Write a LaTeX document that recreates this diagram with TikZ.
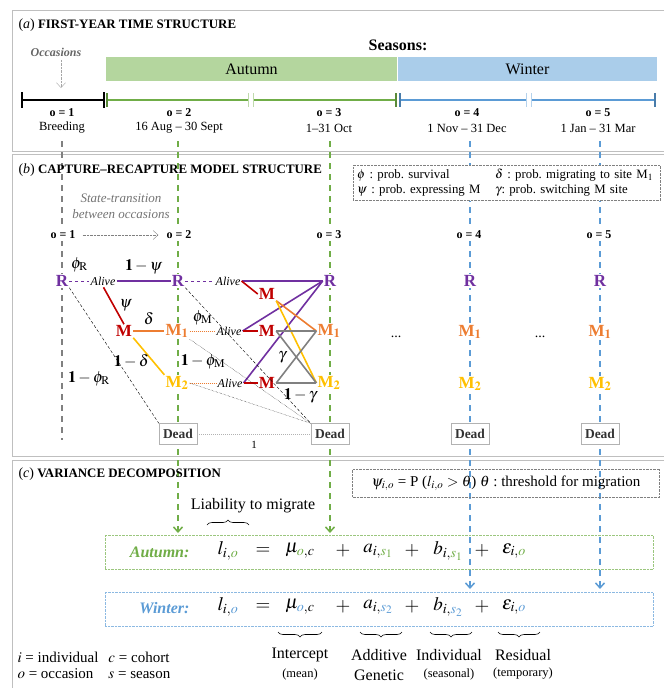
\documentclass[tikz,border=0pt]{standalone}
\usepackage{mathptmx}
\usepackage{fontspec}
\setmainfont{Liberation Serif}
\usetikzlibrary{arrows.meta,decorations.pathreplacing}
\definecolor{purp}{HTML}{7030A0}
\definecolor{mred}{HTML}{C00000}
\definecolor{morange}{HTML}{ED7D31}
\definecolor{mgold}{HTML}{FFC000}
\definecolor{agreen}{HTML}{70AD47}
\definecolor{wblue}{HTML}{5B9BD5}
\definecolor{agreenfill}{HTML}{B4D69E}
\definecolor{wbluefill}{HTML}{AACDEA}
\newcommand{\fsz}[1]{\fontsize{#1}{#1}\selectfont}
\frenchspacing

\begin{document}
\begin{tikzpicture}[x=1pt, y=-1pt, >={Straight Barb[length=5pt,width=9pt]},
    every node/.style={font=\fsz{12.5}},
    occ/.style={font=\bfseries\fsz{12}, fill=white, inner sep=2pt},
    st/.style={font=\bfseries\fsz{17}, fill=white, inner sep=1pt},
    alive/.style={font=\itshape\fsz{12}, inner sep=1pt},
    dead/.style={draw=black!30, fill=white, font=\bfseries\fsz{13.5}, text=black!80, inner sep=2pt, minimum width=38, minimum height=21},
    lab/.style={font=\fsz{16}, text=black},
    term/.style={font=\fsz{19}},
    vline/.style={dash pattern=on 6pt off 5pt, line width=1.5pt},
    link/.style={line width=1.6pt},
    frame/.style={draw=black!25, line width=0.8pt},
    title/.style={anchor=west, font=\bfseries\fsz{12.9}},
    brc/.style={decorate, decoration={brace, amplitude=5pt}, line width=0.6pt}]
      \useasboundingbox (0,0) rectangle (664,688);

      \draw[frame] (664,10) -- (12,10) -- (12,151) -- (664,151);
      \draw[frame] (664,154) -- (12,154) -- (12,456) -- (664,456);
      \draw[frame] (664,460) -- (12,460) -- (12,690);

      \coordinate (t1) at (62,141);  \coordinate (e1) at (62,440);
      \coordinate (t2) at (178,141); \coordinate (e2) at (178,533);
      \coordinate (t3) at (330,141); \coordinate (e3) at (330,533);
      \coordinate (t4) at (470,141); \coordinate (e4) at (470,589);
      \coordinate (t5) at (600,141); \coordinate (e5) at (600,589);
      \draw[vline, gray] (t1) -- (e1);
      \draw[vline, agreen, ->] (t2) -- (e2);
      \draw[vline, agreen, ->] (t3) -- (e3);
      \draw[vline, wblue, ->] (t4) -- (e4);
      \draw[vline, wblue, ->] (t5) -- (e5);

      \node[title] (TA) at (15,25) {{\mdseries\fsz{14}(\textit{a})} FIRST-YEAR TIME STRUCTURE};
      \node[font=\bfseries\fsz{16}] (S) at (398,45) {Seasons:};
      \node[font=\bfseries\itshape\fsz{12}, text=black!60] (O) at (56,52) {Occasions};
      \coordinate (Otip) at (61,88);
      \draw[gray!70, densely dotted, ->] (O.south -| Otip) -- (Otip);
      \node[fill=agreenfill, minimum width=291, minimum height=24, inner sep=0, font=\fsz{16}] (AU) at (251.5,69) {Autumn};
      \node[fill=wbluefill, minimum width=259, minimum height=24, inner sep=0, font=\fsz{16}] (WI) at (527.5,69) {Winter};

      \draw[line width=2.5pt] (22,100) -- (104,100) (22,92) -- (22,108) (104,92) -- (104,108);
      \draw[agreen, line width=2.5pt] (107,100) -- (396,100);
      \draw[agreen!80!black, line width=2pt] (107,93) -- (107,107) (396,93) -- (396,107);
      \draw[white, line width=5pt] (251,93) -- (251,107);
      \draw[agreen!45, line width=1pt] (248.5,93) -- (248.5,107) (253.5,93) -- (253.5,107);
      \draw[wblue, line width=2.5pt] (400,100) -- (655,100);
      \draw[wblue!80!black, line width=2pt] (400,93) -- (400,107) (655,93) -- (655,107);
      \draw[white, line width=5pt] (529,93) -- (529,107);
      \draw[wblue!45, line width=1pt] (526.5,93) -- (526.5,107) (531.5,93) -- (531.5,107);

      \node[font=\bfseries\fsz{12}] (a1) at (62,113) {o = 1};
      \node (d1) at (62,128) {Breeding};
      \node[font=\bfseries\fsz{12}] (a2) at (179,113) {o = 2};
      \node (d2) at (179,128) {16 Aug -- 30 Sept};
      \node[font=\bfseries\fsz{12}] (a3) at (329,113) {o = 3};
      \node (d3) at (329,128) {1--31 Oct};
      \node[font=\bfseries\fsz{12}] (a4) at (467,113) {o = 4};
      \node (d4) at (467,128) {1 Nov -- 31 Dec};
      \node[font=\bfseries\fsz{12}] (a5) at (598,113) {o = 5};
      \node (d5) at (598,128) {1 Jan -- 31 Mar};

      \node[title] (TB) at (15,170) {{\mdseries\fsz{14}(\textit{b})} CAPTURE--RECAPTURE MODEL STRUCTURE};
      \node[draw=gray, densely dotted, fill=white, anchor=north west, inner xsep=4pt, inner ysep=4pt, text width=299pt, align=left, font=\fontsize{12.8}{15}\selectfont] (K) at (353,165) {\makebox[138pt][l]{$\phi$ : prob. survival}$\delta$ : prob. migrating to site M$_1$\\
        \makebox[138pt][l]{$\psi$ : prob. expressing M}$\gamma$: prob. switching M site};
      \node[font=\itshape\fontsize{13}{16}\selectfont, text=black!55, align=center] (ST) at (121,206) {State-transition\\between occasions};

      \node[occ] (b1) at (63,235) {o = 1};
      \node[occ] (b2) at (179,235) {o = 2};
      \node[occ] (b3) at (329,235) {o = 3};
      \node[occ] (b4) at (469,235) {o = 4};
      \node[occ] (b5) at (599,235) {o = 5};
      \draw[gray, densely dotted, ->, shorten <=5pt, shorten >=6pt] (b1) -- (b2);

      \node[st, text=purp] (R1) at (62,281) {R};
      \node[alive] (A1) at (103,281) {Alive};
      \node[st, text=mred] (Mx) at (124,331) {M};
      \node[st, text=purp] (R2) at (178,281) {R};
      \node[st, text=morange] (P2) at (177,331) {M$_{\mathbf{1}}$};
      \node[st, text=mgold] (Q2) at (177,383) {M$_{\mathbf{2}}$};
      \node[dead] (D2) at (178,434) {Dead};
      \node[alive] (A2) at (228,281) {Alive};
      \node[alive] (A3) at (229,331) {Alive};
      \node[alive] (A4) at (230,383) {Alive};
      \node[st, text=mred] (Ma) at (267,294) {M};
      \node[st, text=mred] (Mb) at (267,331) {M};
      \node[st, text=mred] (Mc) at (267,383) {M};
      \node[st, text=purp] (R3) at (330,281) {R};
      \node[st, text=morange] (P3) at (329,331) {M$_{\mathbf{1}}$};
      \node[st, text=mgold] (Q3) at (329,383) {M$_{\mathbf{2}}$};
      \node[dead] (D3) at (330,434) {Dead};
      \node[st, text=purp] (R4) at (470,281) {R};
      \node[st, text=morange] (P4) at (470,332) {M$_{\mathbf{1}}$};
      \node[st, text=mgold] (Q4) at (470,384) {M$_{\mathbf{2}}$};
      \node[dead] (D4) at (470,434) {Dead};
      \node[st, text=purp] (R5) at (600,281) {R};
      \node[st, text=morange] (P5) at (600,332) {M$_{\mathbf{1}}$};
      \node[st, text=mgold] (Q5) at (600,384) {M$_{\mathbf{2}}$};
      \node[dead] (D5) at (600,434) {Dead};
      \node[font=\fsz{14}] (E1) at (396,337) {...};
      \node[font=\fsz{14}] (E2) at (540,337) {...};

      \draw[purp, dashed, line width=1pt] (R1) -- node[above=5pt, lab]{$\phi_{\mathrm{R}}$} (A1);
      \draw[purp, link] (A1) -- node[above=3pt, lab]{$\mathbf{1}-\psi$} (R2);
      \draw[mred, link, shorten <=1pt] (A1.south) -- node[right=2pt, lab]{$\psi$} (Mx.north);
      \draw[morange, link] (Mx) -- node[above=2pt, lab]{$\delta$} (P2);
      \draw[mgold, link] (Mx.south east) -- node[pos=0.63, left=0pt, lab]{$\mathbf{1}-\delta$} (Q2.north west);
      \draw[densely dashed] (R1.south east) -- node[pos=0.67, left=16pt, lab]{$\mathbf{1}-\phi_{\mathrm{R}}$} (D2.north west);
      \draw[gray!60, densely dotted, line width=1pt] (D2) -- node[below=3pt, font=\fsz{11}, text=black]{1} (D3);

      \draw[purp, dashed, line width=1pt] (R2) -- (A2);
      \draw[purp, link] (A2) -- (R3);
      \draw[purp, link] (R3.west) -- (A3.east);
      \draw[purp, link] (R3.west) -- (A4.east);
      \draw[mred, link] (A2.east) -- (Ma.west);
      \draw[mred, link] (A3) -- (Mb);
      \draw[mred, link] (A4) -- (Mc);
      \draw[morange, densely dotted, line width=1pt] (P2) -- node[above=2pt, lab]{$\phi_{\mathrm{M}}$} (A3);
      \draw[morange, densely dotted, line width=1pt] (Q2) -- node[above=10pt, lab]{$\mathbf{1}-\phi_{\mathrm{M}}$} (A4);
      \draw[morange, link] (Ma.south east) -- (P3.west);
      \draw[mgold, link] (Ma.south east) -- (Q3.west);
      \draw[gray, link] (Mb) -- (P3);
      \draw[gray, link] (Mb.east) -- (Q3.west);
      \draw[gray, link] (Mc) -- node[below=1pt, pos=0.6, lab]{$\mathbf{1}-\gamma$} (Q3);
      \draw[gray, link] (Mc.east) -- node[left=6pt, lab]{$\gamma$} (P3.west);
      \draw[densely dashed] (R2.south east) -- (D3.north west);
      \draw[densely dotted] (P2.south east) -- (D3.north west);
      \draw[densely dotted] (Q2.east) -- (D3.north west);

      \node[title] (TC) at (15,474) {{\mdseries\fsz{14}(\textit{c})} VARIANCE DECOMPOSITION};
      \node[draw=gray, densely dotted, minimum width=307, minimum height=28, font=\fsz{15}] (T) at (506,483) {$\psi_{i,o}$ = P ($l_{i,o} > \theta$) $\theta$ : threshold for migration};
      \node[font=\fsz{16}] (L) at (253,506) {Liability to migrate};
      \draw[brc] (207,525) -- (249,525);

      \node[draw=agreen!70, densely dotted, minimum width=548, minimum height=34] (AB) at (379,552) {};
      \node[draw=wblue!70, densely dotted, minimum width=548, minimum height=34] (WB) at (379,609) {};
      \node[anchor=east, font=\bfseries\itshape\fsz{16}, text=agreen] (AT) at (193,552) {Autumn:};
      \node[term] (l1) at (228,551) {$l_{i,\textcolor{agreen}{o}}$};
      \node[term] (q1) at (263,551) {$=$};
      \node[term] (m1) at (300,551) {$\mu_{\textcolor{agreen}{o},c}$};
      \node[term] (p1) at (343,551) {$+$};
      \node[term] (g1) at (378,551) {$a_{i,\textcolor{agreen}{s_1}}$};
      \node[term] (r1) at (412,551) {$+$};
      \node[term] (h1) at (448,551) {$b_{i,\textcolor{agreen}{s_1}}$};
      \node[term] (s1) at (482,551) {$+$};
      \node[term] (v1) at (514,551) {$\varepsilon_{i,\textcolor{agreen}{o}}$};
      \node[anchor=east, font=\bfseries\itshape\fsz{16}, text=wblue] (WT) at (193,608) {Winter:};
      \node[term] (l2) at (228,607) {$l_{i,\textcolor{wblue}{o}}$};
      \node[term] (q2) at (263,607) {$=$};
      \node[term] (m2) at (300,607) {$\mu_{\textcolor{wblue}{o},c}$};
      \node[term] (p2) at (343,607) {$+$};
      \node[term] (g2) at (378,607) {$a_{i,\textcolor{wblue}{s_2}}$};
      \node[term] (r2) at (412,607) {$+$};
      \node[term] (h2) at (448,607) {$b_{i,\textcolor{wblue}{s_2}}$};
      \node[term] (s2) at (482,607) {$+$};
      \node[term] (v2) at (514,607) {$\varepsilon_{i,\textcolor{wblue}{o}}$};

      \draw[brc] (322,632) -- (278,632);
      \draw[brc] (402,632) -- (360,632);
      \draw[brc] (472,632) -- (430,632);
      \draw[brc] (540,632) -- (498,632);
      \node[font=\fsz{16}] (I1) at (300,655) {Intercept};
      \node[font=\fsz{12.5}] (I2) at (300,674) {(mean)};
      \node[font=\fsz{16}] (G1) at (379,655) {Additive};
      \node[font=\fsz{16}] (G2) at (379,675) {Genetic};
      \node[font=\fsz{16}] (N1) at (449,655) {Individual};
      \node[font=\fsz{12.5}] (N2) at (449,674) {(seasonal)};
      \node[font=\fsz{16}] (Z1) at (523,655) {Residual};
      \node[font=\fsz{12.5}] (Z2) at (523,674) {(temporary)};

      \node[anchor=west, font=\fontsize{15}{16}\selectfont] (LG) at (14,667) {\begin{tabular}{@{}l@{\hspace{10pt}}l@{}}
        $i$ = individual & $c$ = cohort\\
        $o$ = occasion & $s$ = season
      \end{tabular}};
    \end{tikzpicture}
\end{document}
